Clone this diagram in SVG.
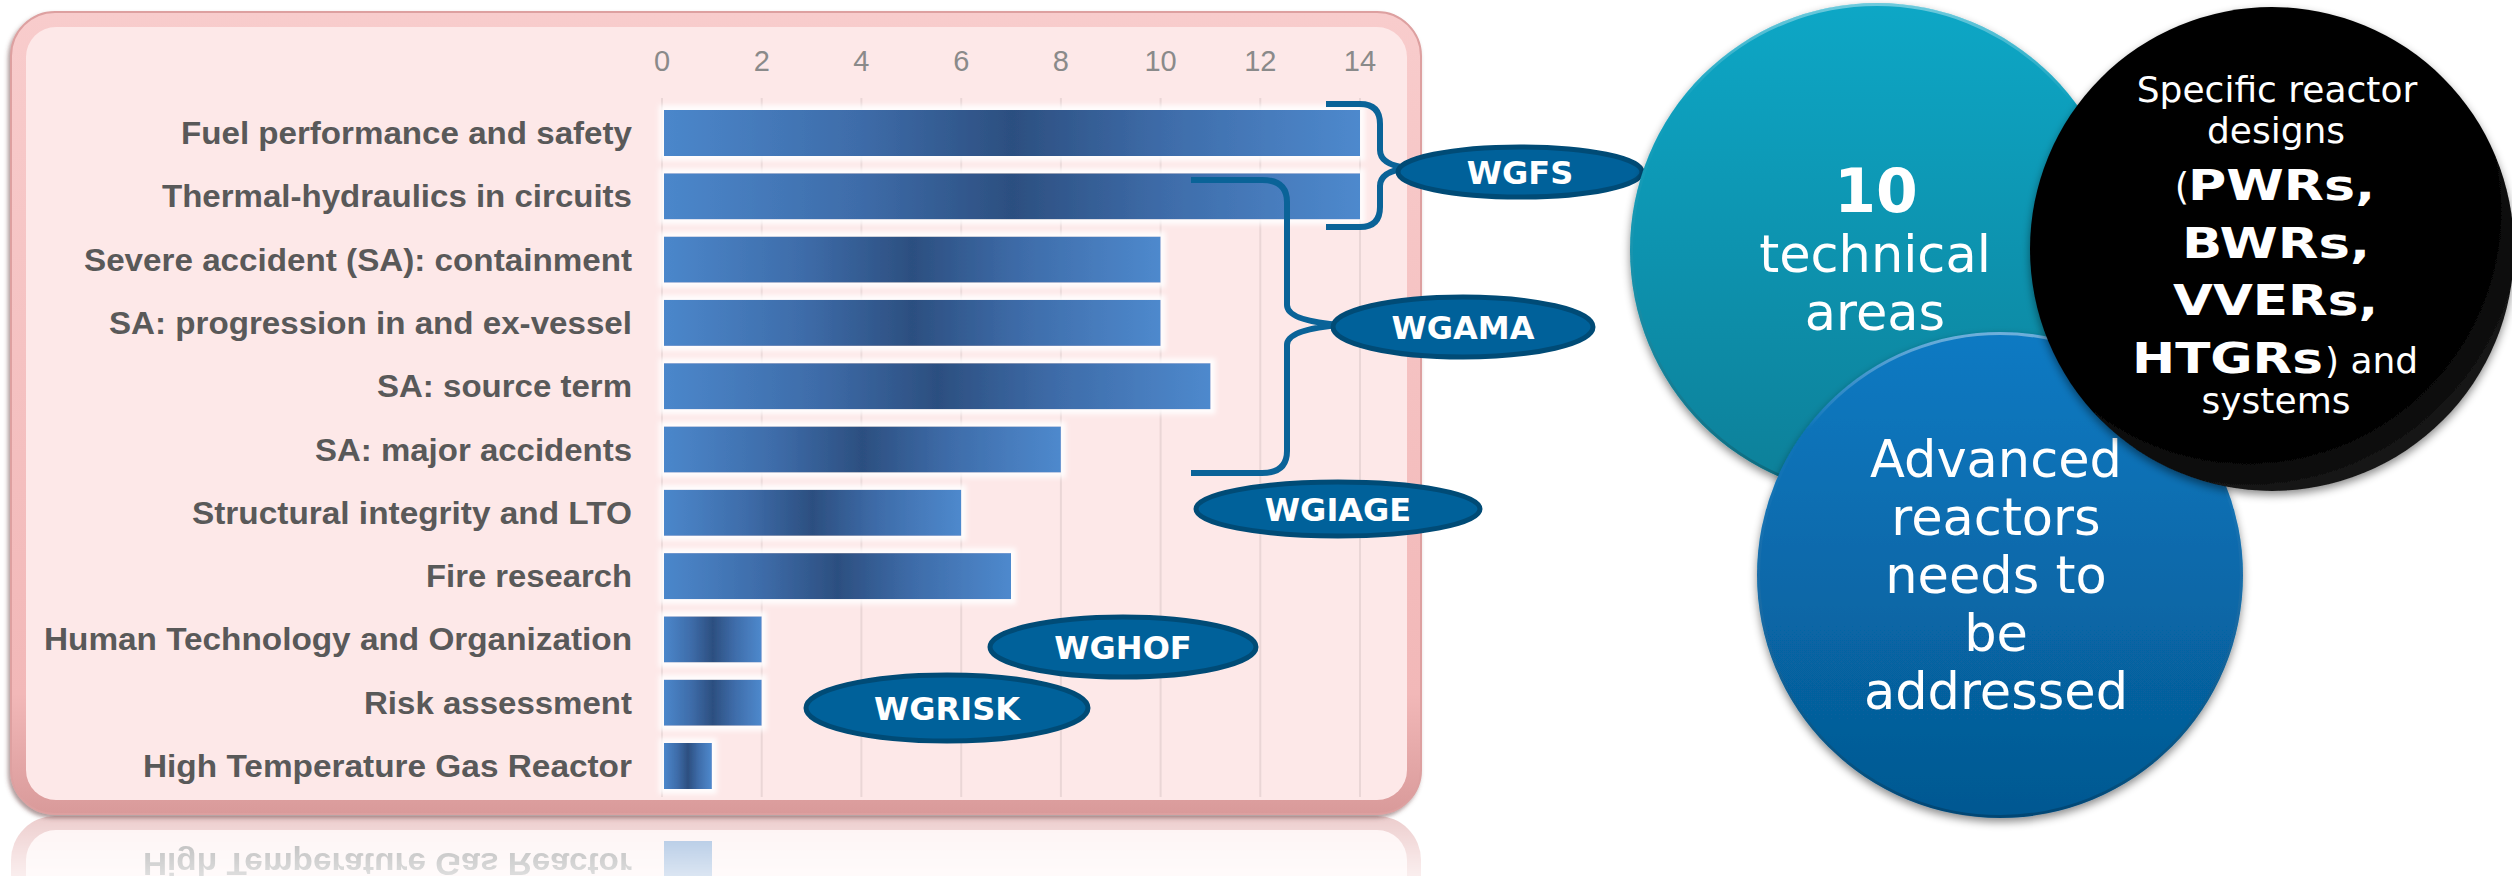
<svg xmlns="http://www.w3.org/2000/svg" width="2512" height="876" viewBox="0 0 2512 876">
<style>
.lbl{font-family:'Liberation Sans',Arial,sans-serif;font-weight:bold;font-size:31px;fill:#595959}
.tick{font-family:'Liberation Sans Narrow','Liberation Sans',Arial,sans-serif;font-size:29px;fill:#8a8a8a;text-anchor:middle}
.grid{stroke:#ead6d6;stroke-width:2}
.bar{fill:url(#barGrad)}
.brace{fill:none;stroke:#0a6398;stroke-width:6}
.wg{fill:#00619a;stroke:#004b76;stroke-width:5}
.wgt{font-family:'DejaVu Sans',Verdana,sans-serif;font-weight:bold;font-size:32px;fill:#fff;text-anchor:middle}
.ct{font-family:'DejaVu Sans',Verdana,sans-serif;fill:#fff;text-anchor:middle}
.ctb{font-family:'DejaVu Sans',Verdana,sans-serif;font-weight:bold;fill:#fff;font-size:43px}
</style>
<defs>
<linearGradient id="frameGrad" x1="0" y1="0" x2="0" y2="1">
<stop offset="0" stop-color="#f8cccc"/><stop offset="0.85" stop-color="#f2b8b8"/><stop offset="1" stop-color="#d99a9a"/>
</linearGradient>
<linearGradient id="barGrad" x1="0" y1="0" x2="1" y2="0">
<stop offset="0" stop-color="#4b87cb"/><stop offset="0.28" stop-color="#3e6ca9"/><stop offset="0.5" stop-color="#2c4f80"/><stop offset="0.72" stop-color="#3e6ca9"/><stop offset="1" stop-color="#4e89cd"/>
</linearGradient>
<linearGradient id="tealGrad" x1="0" y1="0" x2="0" y2="1">
<stop offset="0" stop-color="#0aa7c6"/><stop offset="1" stop-color="#077f98"/>
</linearGradient>
<linearGradient id="blueGrad" x1="0" y1="0" x2="0" y2="1">
<stop offset="0" stop-color="#0a7ac3"/><stop offset="1" stop-color="#055891"/>
</linearGradient>
<radialGradient id="blackGrad" cx="0.45" cy="0.42" r="0.6">
<stop offset="0" stop-color="#000"/><stop offset="0.85" stop-color="#030303"/><stop offset="1" stop-color="#1a1a1a"/>
</radialGradient>
<linearGradient id="rim" x1="0" y1="0" x2="0" y2="1">
<stop offset="0" stop-color="#ffffff" stop-opacity="0.4"/><stop offset="0.2" stop-color="#ffffff" stop-opacity="0"/><stop offset="1" stop-color="#000000" stop-opacity="0.2"/>
</linearGradient>
<filter id="shadow" x="-10%" y="-10%" width="120%" height="125%">
<feDropShadow dx="0" dy="4" stdDeviation="4" flood-color="#000" flood-opacity="0.45"/>
</filter>
<filter id="frameShadow" x="-5%" y="-5%" width="110%" height="110%">
<feDropShadow dx="-2" dy="3" stdDeviation="2" flood-color="#6b4444" flood-opacity="0.55"/>
</filter>
<filter id="glow" x="-5%" y="-5%" width="110%" height="110%">
<feMorphology in="SourceAlpha" operator="dilate" radius="5" result="d"/>
<feGaussianBlur in="d" stdDeviation="2.5" result="b"/>
<feFlood flood-color="#ffffff" flood-opacity="0.9"/>
<feComposite in2="b" operator="in" result="g"/>
<feMerge><feMergeNode in="g"/><feMergeNode in="SourceGraphic"/></feMerge>
</filter>
<linearGradient id="fadeG" x1="0" y1="816" x2="0" y2="876" gradientUnits="userSpaceOnUse">
<stop offset="0" stop-color="#fff" stop-opacity="0.5"/><stop offset="1" stop-color="#fff" stop-opacity="0.2"/>
</linearGradient>
<mask id="fade" maskUnits="userSpaceOnUse" x="0" y="816" width="1500" height="60">
<rect x="0" y="816" width="1500" height="60" fill="url(#fadeG)"/>
</mask>
</defs>

<!-- reflection -->
<g id="reflection" mask="url(#fade)">
<g transform="matrix(1,0,0,-1,0,1630)">
<rect x="11" y="12" width="1410" height="802" rx="44" fill="url(#frameGrad)"/>
<rect x="26" y="27" width="1381" height="773" rx="30" fill="#fde8e8"/>
<rect x="664" y="743" width="48" height="46" fill="#4a7fc0"/>
<text class="lbl" x="143" y="777" textLength="489" lengthAdjust="spacingAndGlyphs">High Temperature Gas Reactor</text>
</g>
</g>

<!-- chart frame -->
<g id="chart-frame">
<rect x="11" y="12" width="1410" height="802" rx="44" fill="url(#frameGrad)" stroke="#dda0a0" stroke-width="2" filter="url(#frameShadow)"/>
<rect x="26" y="27" width="1381" height="773" rx="30" fill="#fde8e8"/>
</g>

<g id="axis">
<line class="grid" x1="662" y1="98" x2="662" y2="797"/>
<line class="grid" x1="761.7" y1="98" x2="761.7" y2="797"/>
<line class="grid" x1="861.4" y1="98" x2="861.4" y2="797"/>
<line class="grid" x1="961.2" y1="98" x2="961.2" y2="797"/>
<line class="grid" x1="1060.9" y1="98" x2="1060.9" y2="797"/>
<line class="grid" x1="1160.6" y1="98" x2="1160.6" y2="797"/>
<line class="grid" x1="1260.3" y1="98" x2="1260.3" y2="797"/>
<line class="grid" x1="1360" y1="98" x2="1360" y2="797"/>
<text class="tick" x="662" y="71">0</text>
<text class="tick" x="761.7" y="71">2</text>
<text class="tick" x="861.4" y="71">4</text>
<text class="tick" x="961.2" y="71">6</text>
<text class="tick" x="1060.9" y="71">8</text>
<text class="tick" x="1160.6" y="71">10</text>
<text class="tick" x="1260.3" y="71">12</text>
<text class="tick" x="1360" y="71">14</text>
</g>

<g id="labels">
<text class="lbl" x="181" y="144" textLength="451" lengthAdjust="spacingAndGlyphs">Fuel performance and safety</text>
<text class="lbl" x="162" y="207.3" textLength="470" lengthAdjust="spacingAndGlyphs">Thermal-hydraulics in circuits</text>
<text class="lbl" x="84" y="270.6" textLength="548" lengthAdjust="spacingAndGlyphs">Severe accident (SA): containment</text>
<text class="lbl" x="109" y="333.9" textLength="523" lengthAdjust="spacingAndGlyphs">SA: progression in and ex-vessel</text>
<text class="lbl" x="377" y="397.2" textLength="255" lengthAdjust="spacingAndGlyphs">SA: source term</text>
<text class="lbl" x="315" y="460.5" textLength="317" lengthAdjust="spacingAndGlyphs">SA: major accidents</text>
<text class="lbl" x="192" y="523.8" textLength="440" lengthAdjust="spacingAndGlyphs">Structural integrity and LTO</text>
<text class="lbl" x="426" y="587.1" textLength="206" lengthAdjust="spacingAndGlyphs">Fire research</text>
<text class="lbl" x="44" y="650.4" textLength="588" lengthAdjust="spacingAndGlyphs">Human Technology and Organization</text>
<text class="lbl" x="364" y="713.7" textLength="268" lengthAdjust="spacingAndGlyphs">Risk assessment</text>
<text class="lbl" x="143" y="777" textLength="489" lengthAdjust="spacingAndGlyphs">High Temperature Gas Reactor</text>
</g>

<g id="bars" filter="url(#glow)">
<g id="bar-fuel"><rect class="bar" x="664" y="110" width="696" height="46"/></g>
<g id="bar-thermal"><rect class="bar" x="664" y="173.3" width="696" height="46"/></g>
<g id="bar-sa-containment"><rect class="bar" x="664" y="236.6" width="496.6" height="46"/></g>
<g id="bar-sa-progression"><rect class="bar" x="664" y="299.9" width="496.6" height="46"/></g>
<g id="bar-sa-source"><rect class="bar" x="664" y="363.2" width="546.5" height="46"/></g>
<g id="bar-sa-major"><rect class="bar" x="664" y="426.5" width="396.9" height="46"/></g>
<g id="bar-structural"><rect class="bar" x="664" y="489.8" width="297.2" height="46"/></g>
<g id="bar-fire"><rect class="bar" x="664" y="553.1" width="347" height="46"/></g>
<g id="bar-human"><rect class="bar" x="664" y="616.4" width="97.7" height="46"/></g>
<g id="bar-risk"><rect class="bar" x="664" y="679.7" width="97.7" height="46"/></g>
<g id="bar-htgr"><rect class="bar" x="664" y="743" width="47.9" height="46"/></g>
</g>

<g id="connectors">
<path class="brace" d="M1326,104 H1360 Q1380,104 1380,124 V150 Q1380,165 1408,168 Q1380,171 1380,186 V207 Q1380,227 1360,227 H1326"/>
<path class="brace" d="M1191,180 H1262 Q1287,180 1287,202 V305 Q1287,321 1342,325 Q1287,329 1287,345 V451 Q1287,473 1262,473 H1191"/>
</g>

<g id="wgfs"><ellipse class="wg" cx="1520" cy="172" rx="122" ry="25"/><text class="wgt" x="1520" y="184">WGFS</text></g>
<g id="wgama"><ellipse class="wg" cx="1463" cy="327" rx="130" ry="30"/><text class="wgt" x="1463" y="339">WGAMA</text></g>
<g id="wgiage"><ellipse class="wg" cx="1338" cy="509" rx="142" ry="27"/><text class="wgt" x="1338" y="521">WGIAGE</text></g>
<g id="wghof"><ellipse class="wg" cx="1123" cy="647" rx="133" ry="30"/><text class="wgt" x="1123" y="659">WGHOF</text></g>
<g id="wgrisk"><ellipse class="wg" cx="947" cy="708" rx="141" ry="33"/><text class="wgt" x="947" y="720">WGRISK</text></g>

<g id="circle-technical">
<circle cx="1877" cy="250" r="247" fill="url(#tealGrad)" filter="url(#shadow)"/>
<circle cx="1877" cy="250" r="245.5" fill="none" stroke="url(#rim)" stroke-width="3"/>
<text class="ct" x="1876" y="212" font-size="60" font-weight="bold">10</text>
<text class="ct" x="1875" y="272" font-size="51">technical</text>
<text class="ct" x="1875" y="330" font-size="51">areas</text>
</g>

<g id="circle-advanced">
<circle cx="2000" cy="575" r="243" fill="url(#blueGrad)" filter="url(#shadow)"/>
<circle cx="2000" cy="575" r="241.5" fill="none" stroke="url(#rim)" stroke-width="3"/>
<text class="ct" x="1996" y="477" font-size="51">Advanced</text>
<text class="ct" x="1996" y="535" font-size="51">reactors</text>
<text class="ct" x="1996" y="593" font-size="51">needs to</text>
<text class="ct" x="1996" y="651" font-size="51">be</text>
<text class="ct" x="1996" y="709" font-size="51">addressed</text>
</g>

<g id="circle-specific">
<circle cx="2272" cy="249" r="242" fill="url(#blackGrad)" filter="url(#shadow)"/>
<text class="ct" x="2277" y="102" font-size="36">Specific reactor</text>
<text class="ct" x="2276" y="143" font-size="36">designs</text>
<text class="ct" x="2182" y="200" font-size="37">(</text>
<text class="ctb" x="2188" y="200" textLength="187" lengthAdjust="spacingAndGlyphs">PWRs,</text>
<text class="ctb" x="2182" y="258" textLength="188" lengthAdjust="spacingAndGlyphs">BWRs,</text>
<text class="ctb" x="2173" y="315" textLength="205" lengthAdjust="spacingAndGlyphs">VVERs,</text>
<text class="ctb" x="2132" y="373" textLength="191" lengthAdjust="spacingAndGlyphs">HTGRs</text>
<text class="ct" x="2325" y="373" font-size="36" style="text-anchor:start">) and</text>
<text class="ct" x="2276" y="413" font-size="36">systems</text>
</g>
</svg>
